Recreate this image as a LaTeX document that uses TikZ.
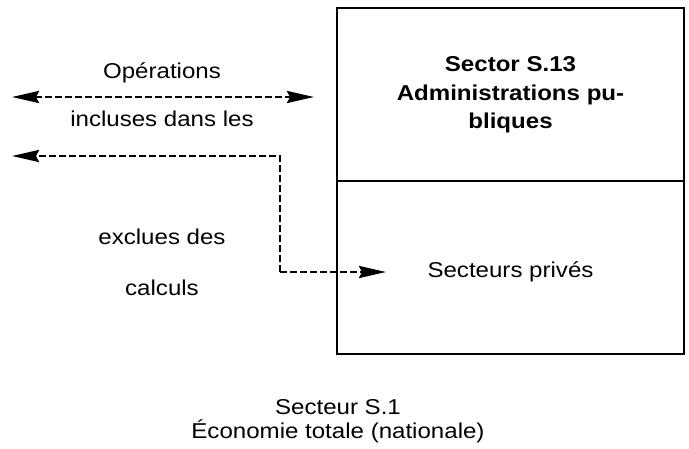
\documentclass[tikz,border=0pt]{standalone}
\usepackage{fontspec}
\setmainfont{Liberation Sans}[FakeStretch=1.12]
\usetikzlibrary{arrows.meta}
\begin{document}
\begin{tikzpicture}[x=1pt,y=-1pt,
  boxpart/.style={draw,line width=1.5pt,minimum width=347pt,minimum height=173pt,inner sep=0pt},
  lbl/.style={font=\fontsize{21.5}{28}\selectfont,align=center,inner sep=0pt},
  flow/.style={line width=2.6pt,dash pattern=on 7pt off 3pt,
    -{Stealth[length=27pt,width=12pt,inset=3pt]}},
  flow2/.style={flow,{Stealth[length=27pt,width=12pt,inset=3pt]}-{Stealth[length=27pt,width=12pt,inset=3pt]}}]
\useasboundingbox (0,0) rectangle (689,448);
\node[boxpart] (gov) at (510.5,94.5) {};
\node[boxpart] (priv) at (510.5,267.5) {};
\node[lbl,font=\fontsize{21.5}{28.5}\selectfont\bfseries] (govt) at (510.5,95) {Sector S.13\\Administrations pu-\\bliques};
\node[lbl] (privt) at (510.5,272) {Secteurs privés};
\node[lbl] (op) at (162,73) {Opérations};
\node[lbl] (incl) at (162,119) {incluses dans les};
\node[lbl] (excl) at (162,237) {exclues des};
\node[lbl] (calc) at (162,288) {calculs};
\node[lbl,font=\fontsize{21.5}{24}\selectfont] (total) at (338,421) {Secteur S.1\\Économie totale (nationale)};
\coordinate (a1l) at (12,97);
\coordinate (a1r) at (314,97);
\coordinate (a2l) at (12,156);
\coordinate (a2c) at (280,156);
\coordinate (a2d) at (280,272);
\coordinate (a2r) at (386,272);
\draw[flow2] (a1l) -- (a1r);
\draw[flow] (a2r -| a2c) -- (a2c) -- (a2l);
\draw[flow] (a2d) -- (a2r);
\end{tikzpicture}
\end{document}
